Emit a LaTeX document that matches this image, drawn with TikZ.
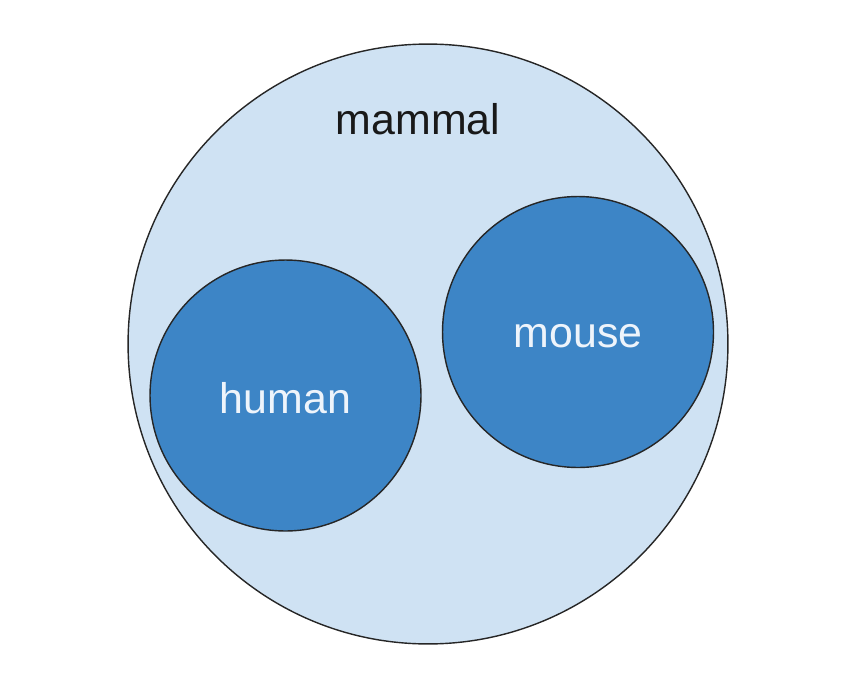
\documentclass[tikz,border=0pt]{standalone}
\usepackage{fontspec}
\setmainfont{Liberation Sans}
\usetikzlibrary{positioning}

\definecolor{setlight}{HTML}{CFE2F3}
\definecolor{setdark}{HTML}{3D85C6}
\definecolor{labellight}{HTML}{EEF4FB}

\tikzset{
  outerset/.style={circle,draw=black!85,line width=0.8pt,fill=setlight,inner sep=0pt,minimum size=12cm},
  innerset/.style={circle,draw=black!85,line width=0.8pt,fill=setdark,inner sep=0pt,minimum size=5.42cm},
  setlabel/.style={text=labellight,font=\fontsize{24.4}{28}\selectfont},
}

\begin{document}
\begin{tikzpicture}[x=0.02cm,y=-0.02cm]
\useasboundingbox (0,0) rectangle (851,693);

% Outer set
\node[outerset] (mammal) at (428,344) {};
\node[font=\fontsize{24.4}{28}\selectfont,text=black!90] (mammallabel) at (418,119) {mammal};

% Subsets
\node[innerset] (human) at (285.5,395.5) {};
\node[innerset] (mouse) at (578,332) {};
\node[setlabel] (humanlabel) at ([yshift=-0.06cm]human.center) {human};
\node[setlabel] (mouselabel) at ([yshift=-0.08cm]mouse.center) {mouse};

\end{tikzpicture}
\end{document}
